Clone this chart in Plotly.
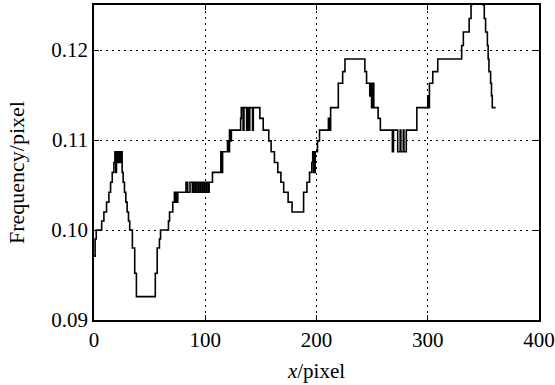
import plotly.graph_objects as go

# Step breakpoints (x, pixel position) and frequency level starting at each breakpoint
x_pos = [0, 1.0, 2.0, 6.9, 8.9, 11.3, 13.4, 14.9, 16.4, 17.9, 18.8, 19.6, 20.2, 21.1, 21.8, 23.0, 23.9,
         25.3, 26.2, 27.4, 28.6, 29.8, 31.0, 32.1, 34.5, 36.6, 38.1, 55.1, 56.8, 58.8, 59.8,
         66.9, 67.9, 70.8, 72.3, 73.0, 73.8, 74.5, 75.3, 82.7, 84.2, 86.3, 88.4, 89.5, 91.0,
         92.5, 94.0, 95.5, 97.0, 98.0, 99.5, 101.0, 102.5, 103.5, 106.5, 114.0, 114.8, 115.6,
         117.0, 120.0, 121.0, 121.8, 122.6, 123.5, 131.8, 132.4, 134.0, 134.8, 137.2, 137.9,
         139.2, 140.0, 142.5, 143.2, 149.1, 152.1, 157.1, 159.2, 162.2, 165.2, 168.0, 170.5,
         174.5, 178.0, 188.4, 191.4, 193.75, 195.8, 196.6, 197.4, 198.8, 200.9, 202.7, 210.7,
         211.5, 212.7, 219.6, 223.5, 225.6, 243.5, 245.0, 247.9, 248.7, 249.5, 250.3, 251.5,
         255.4, 257.4, 268.2, 269.2, 273.0, 275.2, 275.8, 278.0, 278.6, 280.7, 290.2, 300.0,
         300.8, 301.5, 304.5, 309.0, 330.5, 332.0, 337.2, 338.9, 339.5, 341.5, 347.0, 349.9,
         350.8, 352.0, 353.6, 354.3, 355.0, 356.5, 357.3, 358.0, 361.0]
frequency = [0.0971, 0.0990, 0.1000, 0.1010, 0.1020, 0.1031, 0.1042, 0.1053, 0.1064, 0.1075, 0.1087, 0.1064, 0.1087, 0.1075, 0.1087, 0.1075, 0.1087,
             0.1064, 0.1053, 0.1042, 0.1031, 0.1020, 0.1010, 0.1000, 0.0980, 0.0952, 0.0926, 0.0952, 0.0980, 0.0990, 0.1000,
             0.1010, 0.1020, 0.1031, 0.1042, 0.1031, 0.1042, 0.1031, 0.1042, 0.1053, 0.1042, 0.1053, 0.1042, 0.1053, 0.1042,
             0.1053, 0.1042, 0.1053, 0.1042, 0.1053, 0.1042, 0.1053, 0.1042, 0.1053, 0.1064, 0.1087, 0.1064, 0.1087,
             0.1087, 0.1099, 0.1087, 0.1111, 0.1099, 0.1111, 0.1124, 0.1136, 0.1111, 0.1136, 0.1111, 0.1136,
             0.1111, 0.1136, 0.1111, 0.1136, 0.1124, 0.1111, 0.1099, 0.1087, 0.1075, 0.1064, 0.1053, 0.1042,
             0.1031, 0.1020, 0.1042, 0.1053, 0.1064, 0.1075, 0.1087, 0.1064, 0.1087, 0.1099, 0.1111, 0.1124,
             0.1111, 0.1136, 0.1163, 0.1176, 0.1190, 0.1176, 0.1163, 0.1149, 0.1163, 0.1136, 0.1163, 0.1136,
             0.1124, 0.1111, 0.1087, 0.1111, 0.1087, 0.1111, 0.1087, 0.1111, 0.1087, 0.1111, 0.1136, 0.1149,
             0.1136, 0.1163, 0.1176, 0.1190, 0.1205, 0.1220, 0.1235, 0.1250, 0.1266, 0.1282, 0.1266, 0.1250,
             0.1235, 0.1220, 0.1205, 0.1190, 0.1176, 0.1163, 0.1149, 0.1136, 0.1136]

x_ticks = [0, 100, 200, 300, 400]
y_ticks = [0.09, 0.10, 0.11, 0.12]
y_tick_labels = ["0.09", "0.10", "0.11", "0.12"]

FONT = "Liberation Serif"

fig = go.Figure()
fig.add_trace(go.Scatter(x=x_pos, y=frequency, mode="lines",
                         line=dict(color="black", width=1.6, shape="hv"),
                         showlegend=False, hoverinfo="skip"))

axis_common = dict(showline=True, linecolor="black", linewidth=1.5, mirror="ticks",
                   ticks="inside", ticklen=5, tickwidth=1.2, tickcolor="black",
                   showgrid=True, gridcolor="black", gridwidth=1, griddash="2px,4px",
                   zeroline=False, ticklabeloverflow="allow", automargin=False,
                   tickfont=dict(family=FONT, size=21, color="black"))

fig.update_xaxes(range=[0, 400], tickvals=x_ticks, ticktext=[str(v) for v in x_ticks],
                 title=dict(text="<i>x</i>/pixel", font=dict(family=FONT, size=21, color="black"), standoff=12),
                 **axis_common)
fig.update_yaxes(range=[0.09, 0.125], tickvals=y_ticks, ticktext=y_tick_labels,
                 **axis_common)

fig.add_annotation(text="Frequency/pixel", textangle=-90, showarrow=False,
                   xref="paper", yref="paper", x=(16 - 94) / 445, y=(320 - 173) / 315,
                   xanchor="center", yanchor="middle",
                   font=dict(family=FONT, size=22, color="black"))

fig.update_layout(width=555, height=385, margin=dict(l=94, r=16, t=5, b=65),
                  paper_bgcolor="white", plot_bgcolor="white")

fig.write_html("out.html")
